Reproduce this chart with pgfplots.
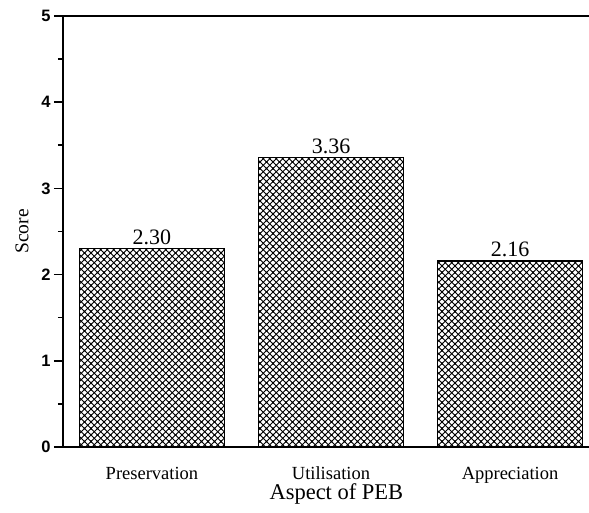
\documentclass[border=0pt]{standalone}
\usepackage{fontspec}
\setmainfont{Liberation Serif}
\setsansfont{Liberation Sans}
\usepackage{pgfplots}
\pgfplotsset{compat=1.18}
\usetikzlibrary{patterns}
\pgfdeclarepatternformonly{xhatch}{\pgfqpoint{-1pt}{-1pt}}{\pgfqpoint{7.5pt}{7.5pt}}{\pgfqpoint{6.5pt}{6.5pt}}{%
  \pgfsetlinewidth{1.0pt}%
  \pgfpathmoveto{\pgfqpoint{-1pt}{-1pt}}\pgfpathlineto{\pgfqpoint{7.5pt}{7.5pt}}%
  \pgfpathmoveto{\pgfqpoint{-1pt}{7.5pt}}\pgfpathlineto{\pgfqpoint{7.5pt}{-1pt}}%
  \pgfusepath{stroke}}
\begin{document}
\begin{tikzpicture}
\begin{axis}[
  scale only axis, width=526pt, height=431pt,
  xmin=-0.497, xmax=2.441, ymin=0, ymax=5,
  axis lines=left, axis line style={-, line width=1.6pt},
  /pgf/number format/assume math mode=true,
  xtick={0,1,2}, xticklabels={Preservation,Utilisation,Appreciation},
  xtick style={draw=none},
  xticklabel style={font=\fontsize{18.5}{18.5}\selectfont, anchor=base, inner sep=0pt, yshift=-24pt},
  ytick={0,1,2,3,4,5}, minor y tick num=1,
  tick align=outside, major tick length=9pt, minor tick length=5pt,
  ytick style={line width=1.6pt, black},
  minor y tick style={line width=1.6pt, black},
  yticklabel style={font=\sffamily\bfseries\fontsize{16.5}{16.5}\selectfont},
  ylabel={Score},
  ylabel style={font=\fontsize{19.5}{19.5}\selectfont, at={(axis description cs:-0.078,0.5)}, anchor=center, rotate=0},
  xlabel={Aspect of PEB},
  xlabel style={font=\fontsize{22.5}{22.5}\selectfont, at={(axis cs:1.03,0)}, anchor=base, inner sep=0pt, yshift=-53pt},
  clip=false,
]
\addplot[ybar, bar width=145pt, draw=black, line width=1.4pt, pattern=xhatch,
  nodes near coords={\pgfmathprintnumber[fixed,fixed zerofill,precision=2]{\pgfplotspointmeta}},
  nodes near coords style={font=\fontsize{22}{22}\selectfont, anchor=base, inner sep=0pt, yshift=4pt, /pgf/number format/assume math mode=true}]
  coordinates {(0,2.30) (1,3.36) (2,2.16)};
\draw[line width=1.6pt] (rel axis cs:0,1) -- (rel axis cs:1,1);
\coordinate (sw) at (rel axis cs:0,0);
\coordinate (ne) at (rel axis cs:1,1);
\end{axis}
\pgfresetboundingbox
\path ([shift={(-63pt,-66pt)}]sw) rectangle ([shift={(0pt,16pt)}]ne);
\end{tikzpicture}
\end{document}
